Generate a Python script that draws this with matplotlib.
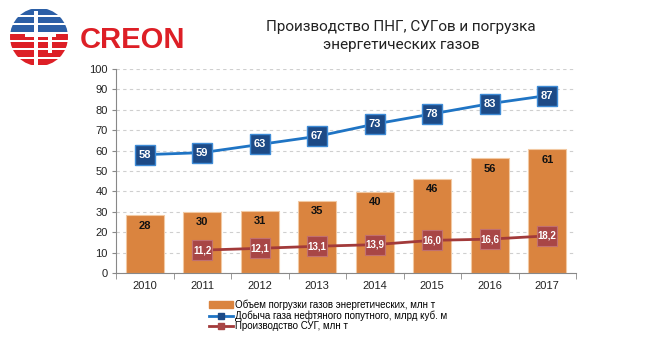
import matplotlib
matplotlib.use("Agg")
import matplotlib.pyplot as plt
from matplotlib import font_manager
from matplotlib.patches import Circle, Rectangle, Patch
from matplotlib.lines import Line2D
import numpy as np

years = ["2010", "2011", "2012", "2013", "2014", "2015", "2016", "2017"]
loading = [28.2, 29.8, 30.6, 35.3, 39.6, 46.1, 56.2, 60.6]
loading_labels = ["28", "30", "31", "35", "40", "46", "56", "61"]
apg = [58, 59, 63, 67, 73, 78, 83, 87]
apg_labels = ["58", "59", "63", "67", "73", "78", "83", "87"]
lpg_years = ["2011", "2012", "2013", "2014", "2015", "2016", "2017"]
lpg = [11.2, 12.1, 13.1, 13.9, 16.0, 16.6, 18.2]
lpg_labels = ["11,2", "12,1", "13,1", "13,9", "16,0", "16,6", "18,2"]
yticks = [0, 10, 20, 30, 40, 50, 60, 70, 80, 90, 100]
title = "Производство ПНГ, СУГов и погрузка\nэнергетических газов"
legend_labels = ["Объем погрузки газов энергетических, млн т",
                 "Добыча газа нефтяного попутного, млрд куб. м",
                 "Производство СУГ, млн т"]

plt.rcParams['font.family'] = ['Liberation Sans', 'DejaVu Sans']

W, H = 662, 341
fig = plt.figure(figsize=(W / 100, H / 100), dpi=100)
fig.patch.set_facecolor("white")

ax = fig.add_axes([116 / W, 1 - 273 / H, (576 - 116) / W, (273 - 69) / H])
x = np.arange(len(years))
xl = np.array([years.index(y) for y in lpg_years])

bar_c = "#DA843F"
blue_line = "#1F74C4"
blue_face = "#1D4A86"
red_line = "#A23A3A"
red_face = "#A84646"

ax.bar(x, loading, width=0.66, color=bar_c, edgecolor="#F2C9A3", linewidth=0.8, zorder=2)
for xi, v, lab in zip(x, loading, loading_labels):
    ax.text(xi, v - 5, lab, ha="center", va="center", fontsize=8, fontweight="bold", color="#111111", zorder=5)

ax.plot(x, apg, color=blue_line, lw=2, zorder=3)
ax.plot(x, apg, ls="none", marker="s", ms=14, mfc=blue_face, mec="#3E8BD6", mew=1, zorder=4)
for xi, v, lab in zip(x, apg, apg_labels):
    ax.text(xi, v, lab, ha="center", va="center", fontsize=8, fontweight="bold", color="white", zorder=5)

ax.plot(xl, lpg, color=red_line, lw=2, zorder=3)
ax.plot(xl, lpg, ls="none", marker="s", ms=15, mfc=red_face, mec="#C27070", mew=0.8, zorder=4)
for xi, v, lab in zip(xl, lpg, lpg_labels):
    ax.text(xi, v, lab, ha="center", va="center", fontsize=7, fontweight="bold", color="white", zorder=5)

ax.set_xlim(-0.5, len(years) - 0.5)
ax.set_ylim(0, 100)
ax.set_yticks(yticks)
ax.set_yticklabels([str(t) for t in yticks], fontsize=8, color="#222222")
ax.set_xticks(x)
ax.set_xticklabels(years, fontsize=8, color="#222222")
ax.tick_params(axis="x", length=0, pad=6)
ax.set_xticks(np.arange(-0.5, len(years)), minor=True)
ax.tick_params(axis="x", which="minor", length=4, color="#888888", direction="out")
ax.tick_params(axis="y", length=3, color="#888888", pad=3)
ax.grid(axis="y", ls=(0, (3, 3)), color="#CFCFCF", lw=0.8, zorder=0)
for s in ["top", "right"]:
    ax.spines[s].set_visible(False)
ax.spines["left"].set_color("#888888")
ax.spines["bottom"].set_color("#888888")

# legend
handles = [Patch(facecolor=bar_c, edgecolor=bar_c),
           Line2D([0], [0], color=blue_line, lw=2, marker="s", ms=4, mfc=blue_face, mec=blue_face),
           Line2D([0], [0], color=red_line, lw=2, marker="s", ms=4, mfc=red_face, mec=red_face)]
fig.legend(handles, legend_labels, loc="upper left", bbox_to_anchor=(209 / W, 1 - 299.5 / H),
           frameon=False, fontsize=7, handlelength=2.5, handleheight=0.6, handletextpad=0.2,
           labelspacing=0.05, borderaxespad=0, borderpad=0)

fig.text(401 / W, 1 - 36 / H, title, ha="center", va="center", fontsize=11,
         family=["Roboto", "DejaVu Sans"], color="#222222", linespacing=1.45)

# logo
lax = fig.add_axes([10 / W, 1 - 66 / H, 58 / W, 58 / H])
lax.set_xlim(0, 1)
lax.set_ylim(0, 1)
lax.axis("off")
circ = Circle((0.5, 0.5), 0.5, transform=lax.transData, facecolor="none", edgecolor="none")
lax.add_patch(circ)
n = 7
for i in range(n):
    y0 = i / n
    col = "#DD1F26" if y0 < 0.5 else "#2C5FA6"
    r = Rectangle((0, y0 + 0.02), 1, 1 / n - 0.035, facecolor=col, edgecolor="none")
    lax.add_patch(r)
    r.set_clip_path(circ)
for rr in [Rectangle((0.42, 0.0), 0.07, 0.95, facecolor="white"),
           Rectangle((0.25, 0.50), 0.55, 0.06, facecolor="white"),
           Rectangle((0.66, 0.22), 0.06, 0.36, facecolor="white")]:
    lax.add_patch(rr)
    rr.set_clip_path(circ)
fig.text(80 / W, 1 - 39.5 / H, "CREON", ha="left", va="center", fontsize=21, fontweight="bold",
         color="#DD1F26", family=["Liberation Sans", "DejaVu Sans"])

fig.savefig("out.png", dpi=100, facecolor="white")
